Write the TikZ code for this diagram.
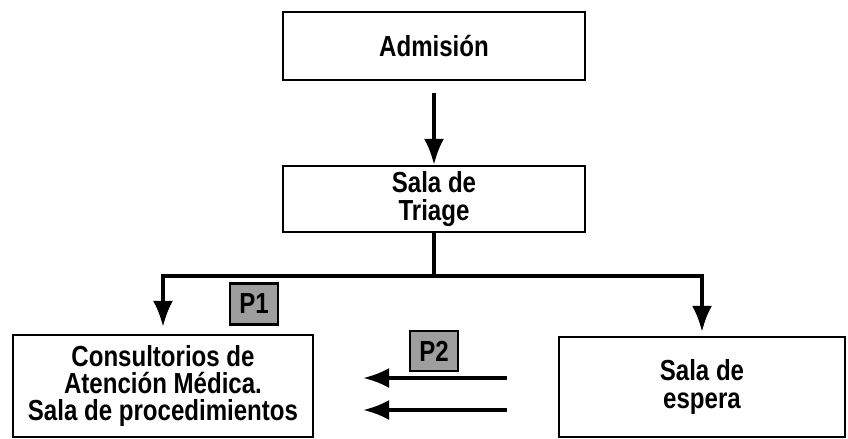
\documentclass[tikz,border=0pt]{standalone}
\usepackage{fontspec}
\setmainfont{Liberation Sans}[FakeStretch=0.83]
\usetikzlibrary{%
  arrows.meta,%
  positioning%
}
\tikzset{>={Latex[length=5.2mm,width=4mm]}}
\tikzset{area/.style = {draw, line width=1.3pt, align=center,
        font=\bfseries\fontsize{16.5}{15.5}\selectfont, inner sep=0pt},%
        paso/.style={draw, line width=1.3pt, fill=black!38,
        minimum width=0.95cm, minimum height=0.82cm, inner sep=0pt,
        font=\bfseries\fontsize{16.5}{16}\selectfont},%
        flujo/.style={->, line width=2pt}}

\begin{document}
\begin{tikzpicture}[x=0.02cm,y=-0.02cm]
  \useasboundingbox (0,0) rectangle (848,439);
  \node[area, minimum width=6.04cm, minimum height=1.36cm] (adm) at (434,46) {Admisión};
  \node[area, minimum width=6.04cm, minimum height=1.32cm] (tri) at (434,199) {Sala de\\Triage};
  \node[area, minimum width=6.0cm, minimum height=2.04cm] (cons) at (163,386)
    {Consultorios de\\Atención Médica.\\Sala de procedimientos};
  \node[area, minimum width=5.72cm, minimum height=2.0cm] (esp) at (702,387) {Sala de\\espera};
  \node[paso] (p1) at (254,304) {P1};
  \node[paso, minimum height=0.8cm] (p2) at (434,351) {P2};
  \coordinate (bar) at (434,276);
  % flujo principal
  \draw[flujo, shorten <=0.24cm] (adm) -- (tri);
  \draw[line width=2pt] (tri) -- (bar);
  \draw[flujo, shorten >=0.14cm] (bar) -| (cons.north);
  \draw[flujo, shorten >=0.08cm] (bar) -| (esp.north);
  % regreso a consultorios
  \draw[flujo, shorten <=1.02cm, shorten >=0.98cm] (esp.west |- 0,378) -- (cons.east |- 0,378);
  \draw[flujo, shorten <=1.02cm, shorten >=0.98cm] (esp.west |- 0,410) -- (cons.east |- 0,410);
\end{tikzpicture}
\end{document}
